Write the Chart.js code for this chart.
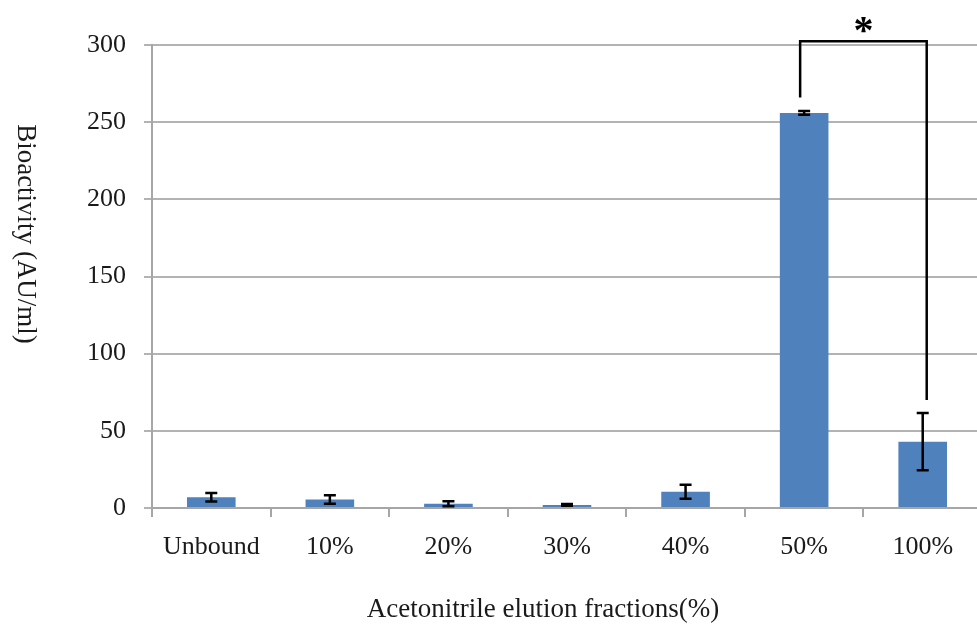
<!DOCTYPE html>
<html>
<head>
<meta charset="utf-8">
<script src="https://cdn.jsdelivr.net/npm/chart.js@4"></script>
<style>
  html, body { margin: 0; padding: 0; background: #fff; overflow: hidden; }
  #wrap { width: 977px; height: 630px; overflow: hidden; }
</style>
</head>
<body>
<div id="wrap"><canvas id="grafico" width="982" height="630"></canvas></div>
<script>
const categorias = ["Unbound", "10%", "20%", "30%", "40%", "50%", "100%"];
const atividade = [7, 5.5, 2.8, 2, 10.5, 256, 43];
const erro = [2.8, 2.7, 1.6, 0.6, 4.5, 1.2, 18.5];
const ticksY = [0, 50, 100, 150, 200, 250, 300];

// colchete de significancia: barras 5 e 6, topo e pontas (em unidades do eixo y)
const colchete = { de: 5, ate: 6, topo: 302.5, pernaEsq: 266, pernaDir: 70, rotulo: "*" };

const tituloX = "Acetonitrile elution fractions(%)";
const tituloY = "Bioactivity (AU/ml)";

const fonte = "'Liberation Serif', 'Times New Roman', serif";

const extras = {
  id: "extras",
  afterDatasetsDraw(chart) {
    const ctx = chart.ctx;
    const x = chart.scales.x;
    const y = chart.scales.y;
    ctx.save();
    // barras de erro
    ctx.strokeStyle = "#000";
    ctx.lineWidth = 2.5;
    atividade.forEach((v, i) => {
      const cx = x.getPixelForValue(i);
      const yTop = y.getPixelForValue(v + erro[i]);
      const yBot = y.getPixelForValue(Math.max(v - erro[i], 0));
      ctx.beginPath();
      ctx.moveTo(cx, yTop); ctx.lineTo(cx, yBot);
      ctx.moveTo(cx - 6, yTop); ctx.lineTo(cx + 6, yTop);
      ctx.moveTo(cx - 6, yBot); ctx.lineTo(cx + 6, yBot);
      ctx.stroke();
    });
    // colchete
    const x1 = x.getPixelForValue(colchete.de) - 4;
    const x2 = x.getPixelForValue(colchete.ate) + 4;
    const yt = y.getPixelForValue(colchete.topo);
    ctx.lineWidth = 2.5;
    ctx.beginPath();
    ctx.moveTo(x1, y.getPixelForValue(colchete.pernaEsq));
    ctx.lineTo(x1, yt);
    ctx.lineTo(x2, yt);
    ctx.lineTo(x2, y.getPixelForValue(colchete.pernaDir));
    ctx.stroke();
    ctx.fillStyle = "#000";
    ctx.font = "bold 40px " + fonte;
    ctx.textAlign = "center";
    ctx.textBaseline = "alphabetic";
    ctx.fillText(colchete.rotulo, (x1 + x2) / 2, yt + 2);
    // titulos dos eixos
    ctx.font = "27px " + fonte;
    ctx.fillStyle = "#1a1a1a";
    ctx.textBaseline = "middle";
    ctx.fillText(tituloX, 543, 610);
    ctx.translate(25, 234);
    ctx.rotate(Math.PI / 2);
    ctx.fillText(tituloY, 0, 0);
    ctx.restore();
  }
};

new Chart(document.getElementById("grafico").getContext("2d"), {
  type: "bar",
  data: {
    labels: categorias,
    datasets: [{
      data: atividade,
      backgroundColor: "#4f81bd",
      borderWidth: 0,
      categoryPercentage: 1,
      barPercentage: 0.41
    }]
  },
  options: {
    responsive: false,
    animation: false,
    devicePixelRatio: 1,
    layout: { padding: { top: 45, right: 0, left: 0, bottom: 0 } },
    plugins: { legend: { display: false }, tooltip: { enabled: false } },
    scales: {
      x: {
        afterFit(scale) { scale.height = 122; },
        grid: { drawOnChartArea: false, drawTicks: true, tickLength: 9, color: "#a6a6a6", lineWidth: 2 },
        border: { color: "#a6a6a6", width: 2 },
        ticks: { color: "#1a1a1a", font: { family: fonte, size: 26 }, padding: 15 }
      },
      y: {
        min: 0,
        max: 300,
        afterFit(scale) { scale.width = 152; },
        afterBuildTicks(scale) { scale.ticks = ticksY.map(v => ({ value: v })); },
        grid: { color: "#b3b3b3", lineWidth: 2, tickLength: 8 },
        border: { color: "#a6a6a6", width: 2 },
        ticks: { color: "#1a1a1a", font: { family: fonte, size: 26 }, padding: 18 }
      }
    }
  },
  plugins: [extras]
});
</script>
</body>
</html>
